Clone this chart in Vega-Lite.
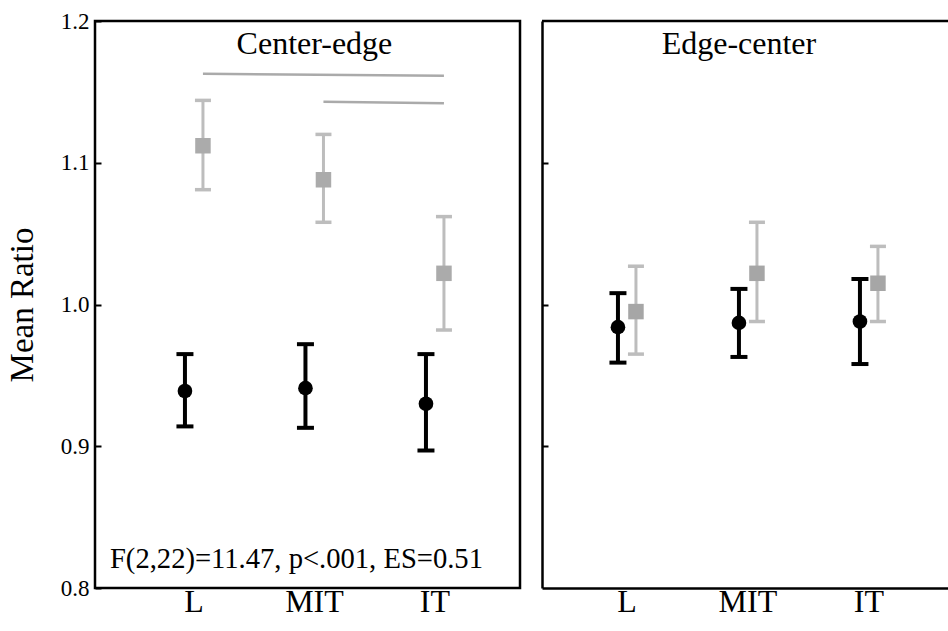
{
  "$schema": "https://vega.github.io/schema/vega-lite/v6.json",
  "background": "white",
  "padding": {"left": 5, "top": 8, "right": 0, "bottom": 0},
  "spacing": 18,
  "datasets": {
    "stats": [
      {"panel": "Center-edge", "region": "L", "group": "A", "mean": 0.939, "lo": 0.914, "hi": 0.965},
      {"panel": "Center-edge", "region": "MIT", "group": "A", "mean": 0.941, "lo": 0.913, "hi": 0.972},
      {"panel": "Center-edge", "region": "IT", "group": "A", "mean": 0.930, "lo": 0.897, "hi": 0.965},
      {"panel": "Center-edge", "region": "L", "group": "B", "mean": 1.112, "lo": 1.081, "hi": 1.144},
      {"panel": "Center-edge", "region": "MIT", "group": "B", "mean": 1.088, "lo": 1.058, "hi": 1.120},
      {"panel": "Center-edge", "region": "IT", "group": "B", "mean": 1.022, "lo": 0.982, "hi": 1.062},
      {"panel": "Edge-center", "region": "L", "group": "A", "mean": 0.984, "lo": 0.959, "hi": 1.008},
      {"panel": "Edge-center", "region": "MIT", "group": "A", "mean": 0.987, "lo": 0.963, "hi": 1.011},
      {"panel": "Edge-center", "region": "IT", "group": "A", "mean": 0.988, "lo": 0.958, "hi": 1.018},
      {"panel": "Edge-center", "region": "L", "group": "B", "mean": 0.995, "lo": 0.965, "hi": 1.027},
      {"panel": "Edge-center", "region": "MIT", "group": "B", "mean": 1.022, "lo": 0.988, "hi": 1.058},
      {"panel": "Edge-center", "region": "IT", "group": "B", "mean": 1.015, "lo": 0.988, "hi": 1.041}
    ],
    "brackets": [
      {"pair": "L-IT", "region": "L", "group": "B", "level": 1.1627},
      {"pair": "L-IT", "region": "IT", "group": "B", "level": 1.1613},
      {"pair": "MIT-IT", "region": "MIT", "group": "B", "level": 1.1430},
      {"pair": "MIT-IT", "region": "IT", "group": "B", "level": 1.1420}
    ]
  },
  "config": {
    "font": "Liberation Serif",
    "view": {"stroke": null},
    "axis": {
      "grid": false,
      "labelColor": "black",
      "titleColor": "black",
      "domainColor": "black",
      "tickColor": "black",
      "domainWidth": 2.5,
      "tickWidth": 2,
      "labelFont": "Liberation Serif",
      "titleFont": "Liberation Serif",
      "titleFontWeight": "normal"
    },
    "text": {"font": "Liberation Serif", "color": "black"}
  },
  "hconcat": [
    {
      "width": 425,
      "height": 567,
      "view": {"stroke": "black", "strokeWidth": 2.5},
      "data": {"name": "stats"},
      "transform": [{"filter": "datum.panel === 'Center-edge'"}],
      "layer": [
        {
          "data": {"name": "brackets"},
          "transform": [],
          "mark": {"type": "line", "color": "#aaaaaa", "strokeWidth": 2.5},
          "encoding": {
            "x": {"field": "region", "type": "ordinal", "sort": ["L", "MIT", "IT"]},
            "xOffset": {"field": "group", "type": "nominal", "sort": ["A", "B"], "scale": {"domain": ["A", "B"]}},
            "y": {"field": "level", "type": "quantitative"},
            "detail": {"field": "pair"}
          }
        },
        {
          "transform": [{"filter": "datum.group === 'B'"}],
          "mark": {"type": "rule", "color": "#bdbdbd", "strokeWidth": 3},
          "encoding": {
            "x": {"field": "region", "type": "ordinal", "sort": ["L", "MIT", "IT"]},
            "xOffset": {"field": "group", "type": "nominal", "sort": ["A", "B"]},
            "y": {"field": "lo", "type": "quantitative"},
            "y2": {"field": "hi"}
          }
        },
        {
          "transform": [{"filter": "datum.group === 'B'"}, {"fold": ["lo", "hi"], "as": ["end", "bound"]}],
          "mark": {"type": "tick", "color": "#bdbdbd", "size": 16, "thickness": 3.5, "opacity": 1},
          "encoding": {
            "x": {"field": "region", "type": "ordinal", "sort": ["L", "MIT", "IT"]},
            "xOffset": {"field": "group", "type": "nominal", "sort": ["A", "B"]},
            "y": {"field": "bound", "type": "quantitative"}
          }
        },
        {
          "transform": [{"filter": "datum.group === 'B'"}],
          "mark": {"type": "point", "shape": "square", "filled": true, "color": "#ababab", "size": 240, "opacity": 1},
          "encoding": {
            "x": {"field": "region", "type": "ordinal", "sort": ["L", "MIT", "IT"]},
            "xOffset": {"field": "group", "type": "nominal", "sort": ["A", "B"]},
            "y": {"field": "mean", "type": "quantitative"}
          }
        },
        {
          "transform": [{"filter": "datum.group === 'A'"}],
          "mark": {"type": "rule", "color": "black", "strokeWidth": 4},
          "encoding": {
            "x": {"field": "region", "type": "ordinal", "sort": ["L", "MIT", "IT"]},
            "xOffset": {"field": "group", "type": "nominal", "sort": ["A", "B"]},
            "y": {"field": "lo", "type": "quantitative"},
            "y2": {"field": "hi"}
          }
        },
        {
          "transform": [{"filter": "datum.group === 'A'"}, {"fold": ["lo", "hi"], "as": ["end", "bound"]}],
          "mark": {"type": "tick", "color": "black", "size": 17, "thickness": 4, "opacity": 1},
          "encoding": {
            "x": {"field": "region", "type": "ordinal", "sort": ["L", "MIT", "IT"]},
            "xOffset": {"field": "group", "type": "nominal", "sort": ["A", "B"]},
            "y": {"field": "bound", "type": "quantitative"}
          }
        },
        {
          "transform": [{"filter": "datum.group === 'A'"}],
          "mark": {"type": "circle", "color": "black", "size": 215, "opacity": 1},
          "encoding": {
            "x": {
              "field": "region", "type": "ordinal", "sort": ["L", "MIT", "IT"],
              "scale": {"type": "band", "domain": ["L", "MIT", "IT"], "paddingInner": 0.7012, "paddingOuter": 0.614, "align": 0.547},
              "axis": {"title": null, "labelFontSize": 32, "labelPadding": 13, "ticks": false, "domain": false, "labelAngle": 0, "labelAlign": "center", "labelFlush": false, "labelOverlap": false, "bandPosition": 0.5}
            },
            "xOffset": {"field": "group", "type": "nominal", "sort": ["A", "B"]},
            "y": {
              "field": "mean", "type": "quantitative",
              "scale": {"domain": [0.8, 1.2], "nice": false, "zero": false},
              "axis": {"title": "Mean Ratio", "titleFontSize": 33, "titlePadding": 21, "labelFontSize": 23, "values": [0.8, 0.9, 1.0, 1.1, 1.2], "format": ".1f", "tickSize": -6, "labelPadding": 12, "domain": false}
            }
          }
        },
        {
          "data": {"values": [{"label": "Center-edge"}]},
          "transform": [],
          "mark": {"type": "text", "fontSize": 32, "baseline": "top", "align": "center", "dy": 8},
          "encoding": {
            "x": {"datum": "MIT"},
            "y": {"datum": 1.2},
            "text": {"field": "label"}
          }
        },
        {
          "data": {"values": [{"label": "F(2,22)=11.47, p<.001, ES=0.51"}]},
          "transform": [],
          "mark": {"type": "text", "fontSize": 28.6, "baseline": "alphabetic", "align": "center", "dx": -18, "dy": -20},
          "encoding": {
            "x": {"datum": "MIT"},
            "y": {"datum": 0.8},
            "text": {"field": "label"}
          }
        }
      ]
    },
    {
      "width": 406,
      "height": 567,
      "data": {"name": "stats"},
      "transform": [{"filter": "datum.panel === 'Edge-center'"}],
      "layer": [
        {
          "data": {"values": [{"edge": 1.2}]},
          "transform": [],
          "mark": {"type": "rule", "color": "black", "strokeWidth": 2.5},
          "encoding": {"y": {"field": "edge", "type": "quantitative"}}
        },
        {
          "transform": [{"filter": "datum.group === 'B'"}],
          "mark": {"type": "rule", "color": "#bdbdbd", "strokeWidth": 3},
          "encoding": {
            "x": {"field": "region", "type": "ordinal", "sort": ["L", "MIT", "IT"]},
            "xOffset": {"field": "group", "type": "nominal", "sort": ["A", "B"]},
            "y": {"field": "lo", "type": "quantitative"},
            "y2": {"field": "hi"}
          }
        },
        {
          "transform": [{"filter": "datum.group === 'B'"}, {"fold": ["lo", "hi"], "as": ["end", "bound"]}],
          "mark": {"type": "tick", "color": "#bdbdbd", "size": 16, "thickness": 3.5, "opacity": 1},
          "encoding": {
            "x": {"field": "region", "type": "ordinal", "sort": ["L", "MIT", "IT"]},
            "xOffset": {"field": "group", "type": "nominal", "sort": ["A", "B"]},
            "y": {"field": "bound", "type": "quantitative"}
          }
        },
        {
          "transform": [{"filter": "datum.group === 'B'"}],
          "mark": {"type": "point", "shape": "square", "filled": true, "color": "#a6a6a6", "size": 240, "opacity": 1},
          "encoding": {
            "x": {"field": "region", "type": "ordinal", "sort": ["L", "MIT", "IT"]},
            "xOffset": {"field": "group", "type": "nominal", "sort": ["A", "B"]},
            "y": {"field": "mean", "type": "quantitative"}
          }
        },
        {
          "transform": [{"filter": "datum.group === 'A'"}],
          "mark": {"type": "rule", "color": "black", "strokeWidth": 4},
          "encoding": {
            "x": {"field": "region", "type": "ordinal", "sort": ["L", "MIT", "IT"]},
            "xOffset": {"field": "group", "type": "nominal", "sort": ["A", "B"]},
            "y": {"field": "lo", "type": "quantitative"},
            "y2": {"field": "hi"}
          }
        },
        {
          "transform": [{"filter": "datum.group === 'A'"}, {"fold": ["lo", "hi"], "as": ["end", "bound"]}],
          "mark": {"type": "tick", "color": "black", "size": 17, "thickness": 4, "opacity": 1},
          "encoding": {
            "x": {"field": "region", "type": "ordinal", "sort": ["L", "MIT", "IT"]},
            "xOffset": {"field": "group", "type": "nominal", "sort": ["A", "B"]},
            "y": {"field": "bound", "type": "quantitative"}
          }
        },
        {
          "transform": [{"filter": "datum.group === 'A'"}],
          "mark": {"type": "circle", "color": "black", "size": 215, "opacity": 1},
          "encoding": {
            "x": {
              "field": "region", "type": "ordinal", "sort": ["L", "MIT", "IT"],
              "scale": {"type": "band", "domain": ["L", "MIT", "IT"], "paddingInner": 0.7025, "paddingOuter": 0.529, "align": 0.523},
              "axis": {"title": null, "labelFontSize": 32, "labelPadding": 13, "ticks": false, "domain": true, "labelAngle": 0, "labelAlign": "center", "labelFlush": false, "labelOverlap": false, "bandPosition": 0.5}
            },
            "xOffset": {"field": "group", "type": "nominal", "sort": ["A", "B"]},
            "y": {
              "field": "mean", "type": "quantitative",
              "scale": {"domain": [0.8, 1.2], "nice": false, "zero": false},
              "axis": {"title": null, "labels": false, "values": [0.9, 1.0, 1.1], "tickSize": -6, "domain": true}
            }
          }
        },
        {
          "data": {"values": [{"label": "Edge-center"}]},
          "transform": [],
          "mark": {"type": "text", "fontSize": 32, "baseline": "top", "align": "center", "dx": -9, "dy": 8},
          "encoding": {
            "x": {"datum": "MIT"},
            "y": {"datum": 1.2},
            "text": {"field": "label"}
          }
        }
      ]
    }
  ]
}
